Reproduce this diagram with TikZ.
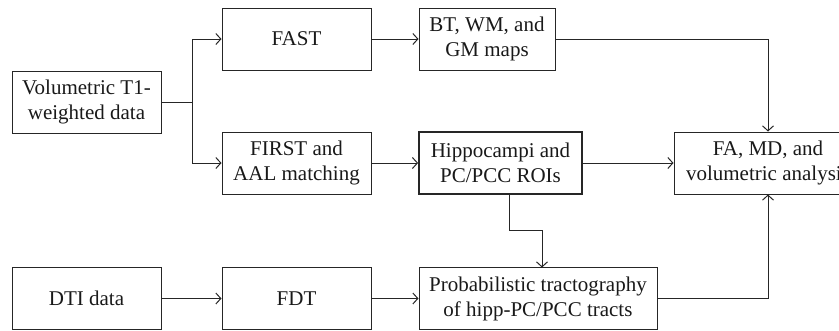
\documentclass[tikz,border=0pt]{standalone}
\usepackage{fontspec}
\setmainfont{Liberation Serif}
\usetikzlibrary{arrows.meta}
\begin{document}
\begin{tikzpicture}[x=1pt,y=-1pt,
  box/.style={draw=black!85,line width=1pt,align=center,inner sep=0pt,
    minimum height=62pt,font=\fontsize{21}{25}\selectfont,text=black!90},
  conn/.style={draw=black!85,line width=1pt,-{Straight Barb[length=5pt,width=11pt,line width=1pt]}},
  plain/.style={draw=black!85,line width=1pt}]
\useasboundingbox (0,0) rectangle (839,330);
\begin{scope}
\clip (0,0) rectangle (839,330);
\node[box,minimum width=149pt] (vol) at (86.5,102) {Volumetric T1-\\weighted data};
\node[box,minimum width=149pt] (fast) at (296.5,39) {FAST};
\node[box,minimum width=149pt] (first) at (296.5,163) {FIRST and\\AAL matching};
\node[box,minimum width=149pt] (dti) at (86.5,298.5) {DTI data};
\node[box,minimum width=149pt] (fdt) at (296.5,298.5) {FDT};
\node[box,minimum width=136pt] (bt) at (487,39) {BT, WM, and\\GM maps};
\node[box,minimum width=163pt,line width=1.8pt] (hipp) at (500.5,163) {Hippocampi and\\PC/PCC ROIs};
\node[box,minimum width=188pt] (fa) at (768,163) {FA, MD, and\\volumetric analysis};
\node[box,minimum width=238pt] (prob) at (538,298.5) {Probabilistic tractography\\of hipp-PC/PCC tracts};
\coordinate (br) at (192,102);
\draw[plain] (vol.east) -- (br);
\draw[conn] (br) |- (fast.west);
\draw[conn] (br) |- (first.west);
\draw[conn] (fast.east) -- (bt.west);
\draw[conn] (first.east) -- (hipp.west);
\draw[conn] (hipp.east) -- (fa.west);
\draw[conn] (dti.east) -- (fdt.west);
\draw[conn] (fdt.east) -- (prob.west);
\draw[conn] (bt.east) -| (fa.north);
\draw[conn] (prob.east) -| (fa.south);
\coordinate (hb) at (509,194);
\draw[conn] (hb) -- (509,230) -- (542,230) -- (542,267.5);
\end{scope}
\end{tikzpicture}
\end{document}
